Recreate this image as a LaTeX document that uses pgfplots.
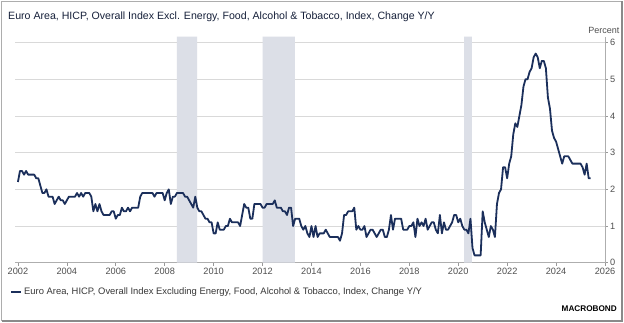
\documentclass[border=0pt]{standalone}
\usepackage{pgfplots}
\pgfplotsset{compat=1.18}
\usepackage{pgfplotstable}
\usepackage{fontspec}
\setmainfont{Liberation Sans}
\definecolor{navy}{HTML}{1B2F5B}
\definecolor{shade}{HTML}{DCDFE7}
\definecolor{gridc}{HTML}{D9D9D9}
\definecolor{ticktxt}{HTML}{505050}
\definecolor{titlec}{HTML}{16203A}
\definecolor{framec}{HTML}{8A8A8A}
% monthly values, Jan 2002 - Jun 2025
\pgfplotstableread[row sep=\\]{
v\\
2.2\\2.5\\2.5\\2.4\\2.5\\2.4\\2.4\\2.4\\2.4\\2.3\\2.3\\2.1\\
1.9\\1.9\\2.0\\1.8\\1.8\\1.8\\1.6\\1.7\\1.8\\1.7\\1.7\\1.6\\
1.7\\1.8\\1.8\\1.8\\1.8\\1.9\\1.8\\1.9\\1.8\\1.9\\1.9\\1.9\\
1.8\\1.4\\1.6\\1.4\\1.6\\1.4\\1.3\\1.3\\1.3\\1.3\\1.4\\1.4\\
1.2\\1.3\\1.3\\1.5\\1.4\\1.4\\1.5\\1.4\\1.5\\1.5\\1.5\\1.5\\
1.8\\1.9\\1.9\\1.9\\1.9\\1.9\\1.9\\1.8\\1.9\\1.9\\1.9\\1.9\\
1.7\\1.9\\2.0\\1.6\\1.8\\1.8\\1.9\\1.9\\1.9\\1.9\\1.8\\1.8\\
1.7\\1.6\\1.5\\1.8\\1.5\\1.4\\1.4\\1.3\\1.2\\1.2\\1.1\\1.1\\
0.8\\0.8\\1.1\\0.9\\0.9\\0.9\\1.0\\1.0\\1.2\\1.1\\1.1\\1.1\\
1.1\\1.0\\1.3\\1.6\\1.5\\1.5\\1.2\\1.2\\1.6\\1.6\\1.6\\1.6\\
1.5\\1.5\\1.6\\1.6\\1.6\\1.6\\1.7\\1.5\\1.5\\1.5\\1.4\\1.4\\
1.3\\1.5\\1.5\\1.0\\1.2\\1.2\\1.2\\1.0\\0.9\\1.0\\0.8\\0.7\\
1.0\\0.7\\1.0\\0.7\\0.8\\0.8\\0.8\\0.9\\0.8\\0.7\\0.7\\0.7\\
0.7\\0.7\\0.6\\0.8\\1.3\\1.3\\1.4\\1.4\\1.4\\1.5\\0.9\\1.0\\
0.9\\0.9\\1.0\\0.7\\0.8\\0.9\\0.9\\0.8\\0.7\\0.8\\0.9\\0.9\\
0.7\\0.7\\0.9\\1.3\\0.9\\1.2\\1.2\\1.2\\1.2\\0.9\\0.9\\0.9\\
1.0\\1.0\\1.1\\0.7\\1.2\\1.0\\1.1\\1.0\\1.2\\0.9\\1.0\\1.1\\
1.1\\0.9\\0.8\\1.3\\0.8\\1.1\\0.9\\0.9\\1.0\\1.1\\1.3\\1.3\\
1.1\\1.2\\1.0\\0.9\\0.9\\0.8\\1.2\\0.4\\0.2\\0.2\\0.2\\0.2\\
1.4\\1.1\\0.9\\0.7\\1.0\\0.9\\0.7\\1.6\\1.9\\2.0\\2.6\\2.6\\
2.3\\2.7\\2.9\\3.5\\3.8\\3.7\\4.0\\4.3\\4.8\\5.0\\5.0\\5.2\\
5.3\\5.6\\5.7\\5.6\\5.3\\5.5\\5.5\\5.3\\4.5\\4.2\\3.6\\3.4\\
3.3\\3.1\\2.9\\2.7\\2.9\\2.9\\2.9\\2.8\\2.7\\2.7\\2.7\\2.7\\
2.7\\2.6\\2.4\\2.7\\2.3\\2.3\\
}\hicp
\begin{document}
\begin{tikzpicture}
\useasboundingbox (0,0) rectangle (624pt,322pt);
\fill[white] (0,0) rectangle (624pt,322pt);
\draw[color=framec!70, line width=0.8pt] (1.5pt,1.5pt) -- (1.5pt,320.8pt) -- (622.2pt,320.8pt);
\draw[color=framec, line width=1.5pt] (1.5pt,1.2pt) -- (622.2pt,1.2pt) -- (622.2pt,320.8pt);
\begin{axis}[
  at={(15pt,59.3pt)}, anchor=south west,
  scale only axis, width=590pt, height=226pt,
  xmin=2001.88, xmax=2026.0, ymin=0, ymax=6.16,
  axis x line*=bottom, axis y line*=right,
  axis line style={color=gridc!80!black, line width=0.6pt},
  xtick={2002,2004,...,2026},
  ytick={0,1,...,6},
  tick align=outside, major tick length=3pt,
  tick style={color=gray!80, line width=0.6pt},
  ymajorgrids, grid style={color=gridc, line width=0.8pt},
  /pgf/number format/assume math mode=true,
  /pgf/number format/1000 sep={},
  xticklabel style={font=\fontsize{9.2}{10}\selectfont, text=ticktxt, yshift=1pt},
  yticklabel style={font=\fontsize{9.2}{10}\selectfont, text=ticktxt, xshift=-1.5pt},
  legend style={at={(axis description cs:-0.0085,-0.1296)}, anchor=west,
    draw=none, fill=none, inner sep=0pt, font=\fontsize{9.4}{11}\selectfont,
    text=ticktxt!70!black},
  legend image code/.code={\draw[navy, line width=2pt] (0pt,0pt) -- (10pt,0pt);},
  legend cell align=left,
]
\addplot[fill=shade, draw=none, forget plot] coordinates {(2008.5,0) (2008.5,6.16) (2009.33,6.16) (2009.33,0)} \closedcycle;
\addplot[fill=shade, draw=none, forget plot] coordinates {(2012.0,0) (2012.0,6.16) (2013.32,6.16) (2013.32,0)} \closedcycle;
\addplot[fill=shade, draw=none, forget plot] coordinates {(2020.24,0) (2020.24,6.16) (2020.56,6.16) (2020.56,0)} \closedcycle;
\addplot[navy, line width=1.8pt, line join=round, mark=none] table[x expr=2002+\coordindex/12, y=v] {\hicp};
\addlegendentry{Euro Area, HICP, Overall Index Excluding Energy, Food, Alcohol \& Tobacco, Index, Change Y/Y}
\end{axis}
\node[anchor=base west, font=\fontsize{10.6}{12}\selectfont, text=titlec, inner sep=0pt] at (8pt,302pt) {Euro Area, HICP, Overall Index Excl. Energy, Food, Alcohol \& Tobacco, Index, Change Y/Y};
\node[anchor=base east, font=\fontsize{9}{10}\selectfont, text=ticktxt, inner sep=0pt] at (619.5pt,288pt) {Percent};
\node[anchor=base east, font=\bfseries\fontsize{8.2}{9}\selectfont, text=black, inner sep=0pt] at (617pt,11pt) {MACROBOND};
\end{tikzpicture}
\end{document}
